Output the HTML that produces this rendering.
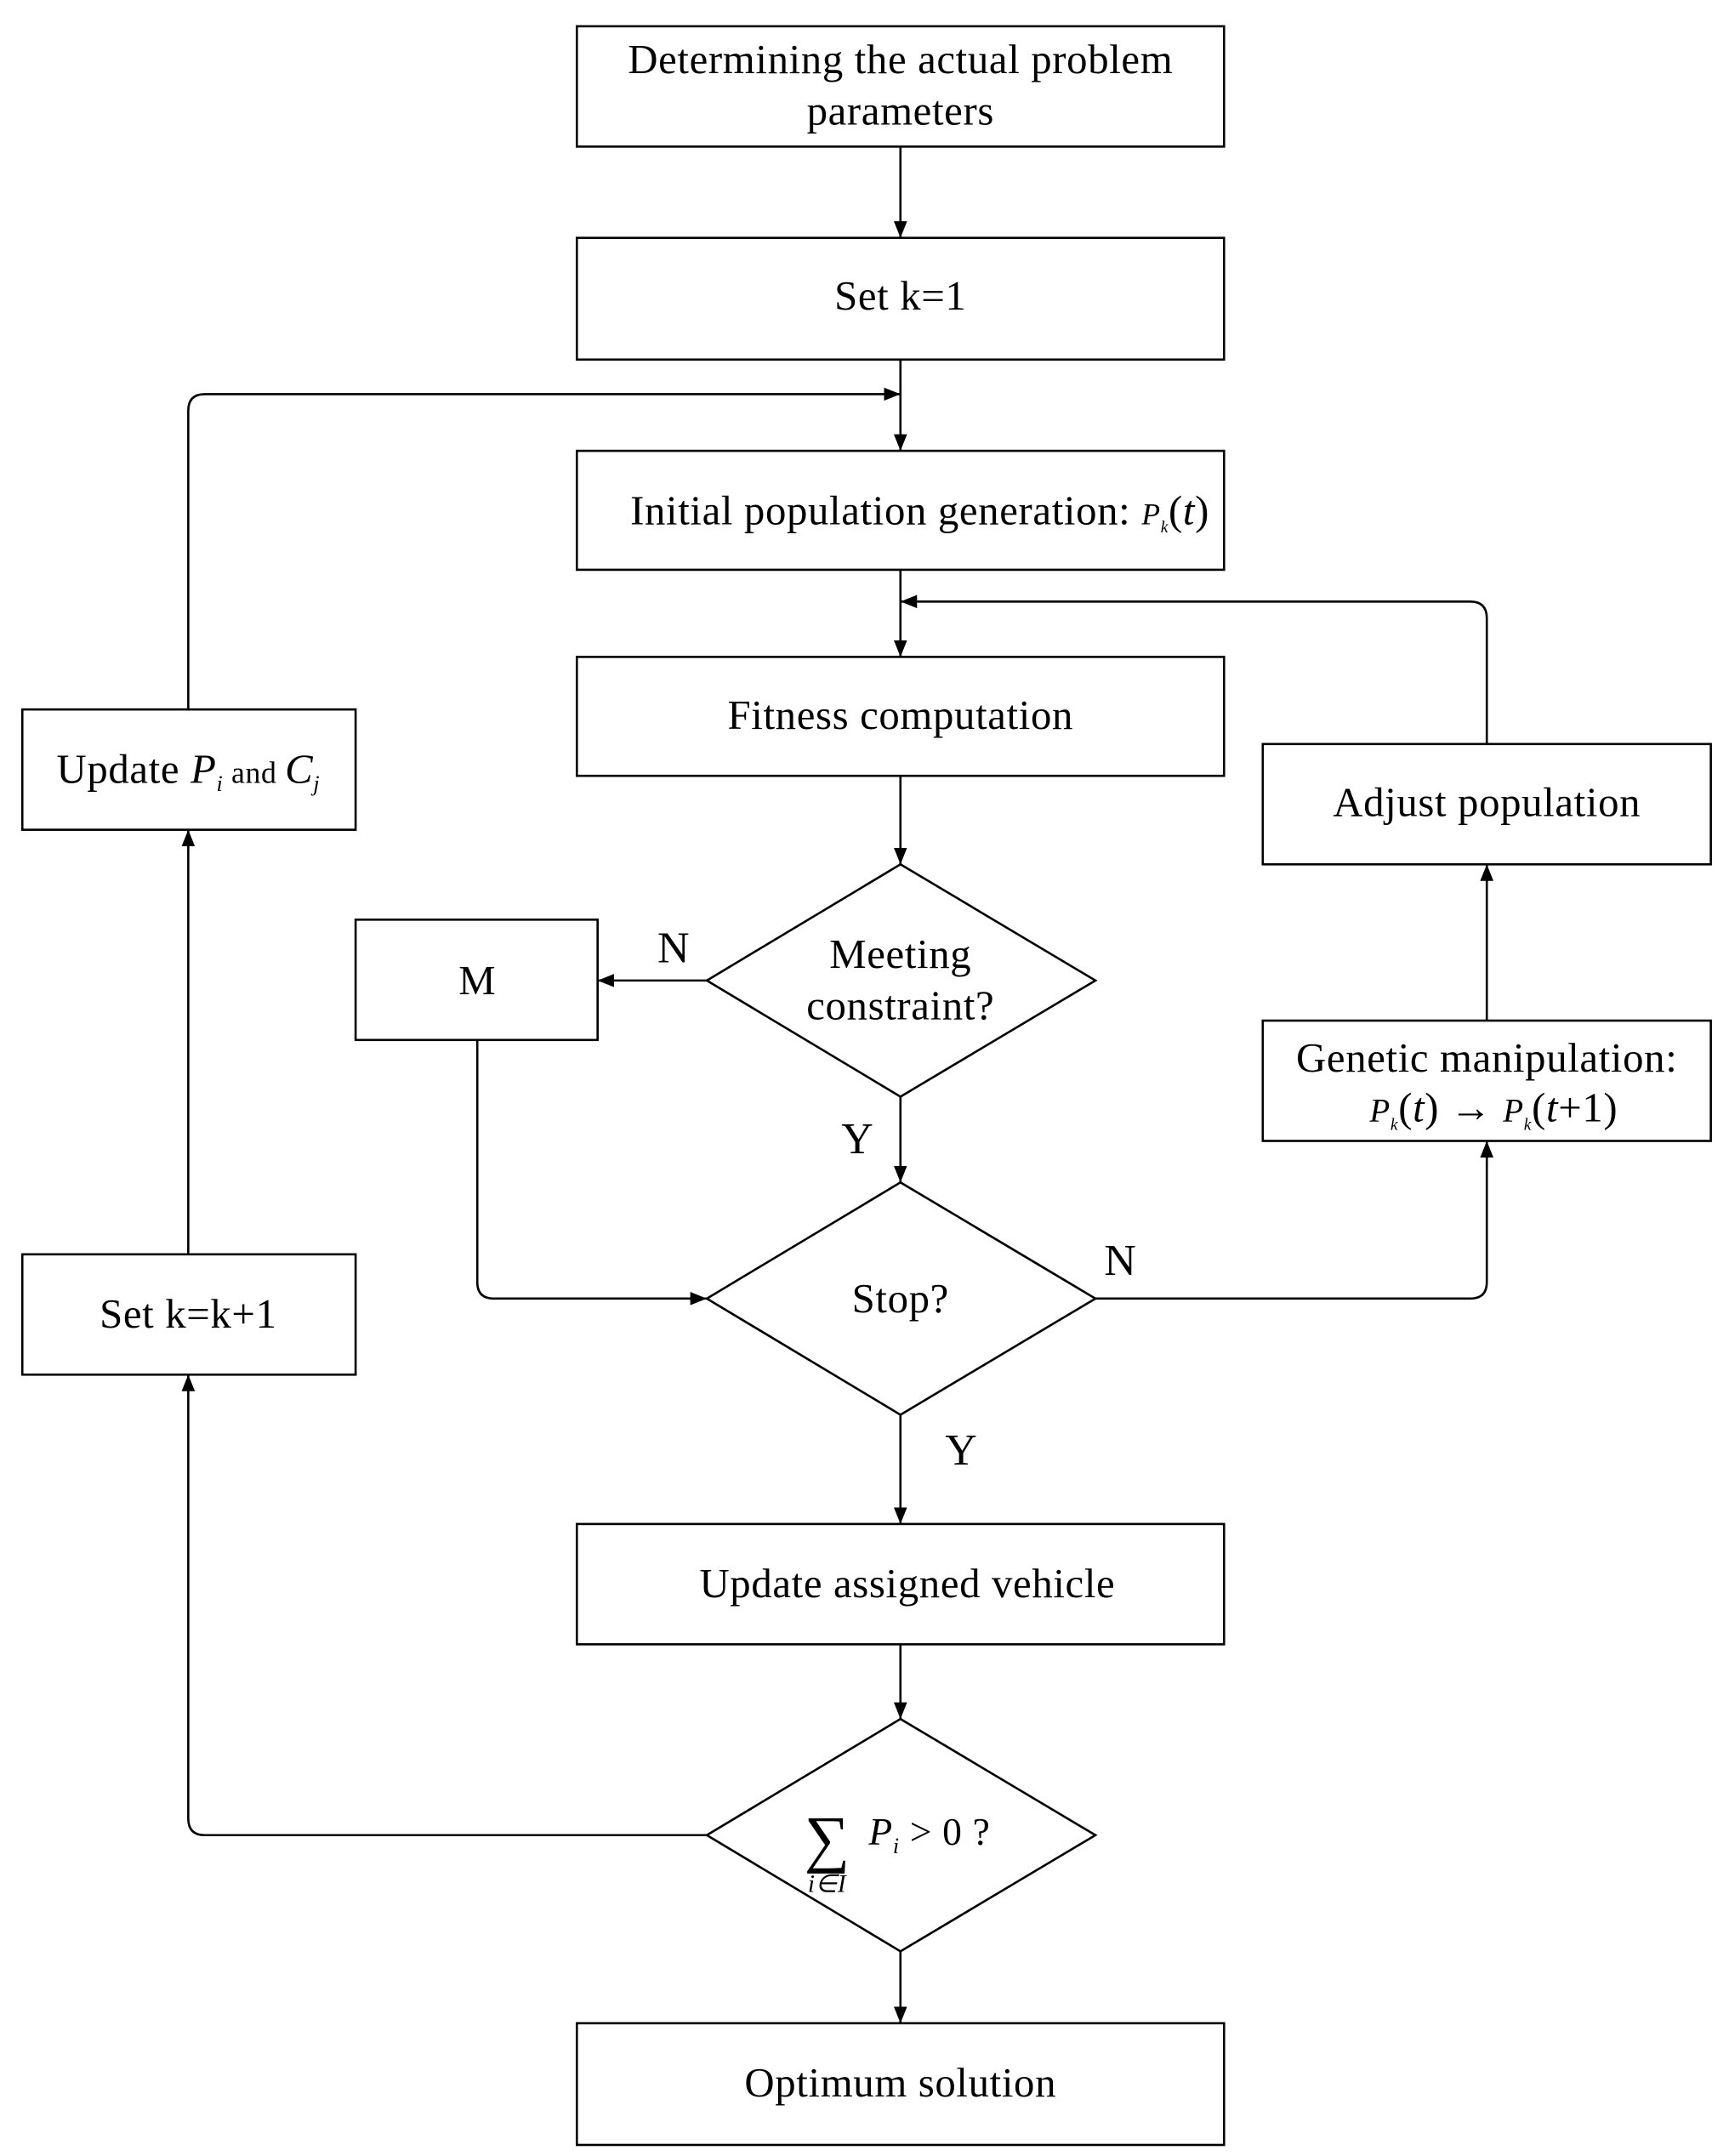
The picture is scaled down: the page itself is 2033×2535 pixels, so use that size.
<!DOCTYPE html>
<html><head><meta charset="utf-8">
<style>
html,body{margin:0;padding:0;background:#fff;}
svg{display:block;}
text{font-family:"Liberation Serif",serif;fill:#000;}
</style></head>
<body>
<svg width="2033" height="2535" viewBox="0 0 1250 1559" xmlns="http://www.w3.org/2000/svg">
<defs>
<marker id="b" viewBox="0 0 10 10" refX="10" refY="5" markerWidth="12" markerHeight="12" markerUnits="userSpaceOnUse" orient="auto">
<path d="M0,1 L10,5 L0,9 z" fill="#000"/>
</marker>
</defs>
<g fill="#fff" stroke="#000" stroke-width="1.6">
<rect x="417" y="19" width="468" height="87"/>
<rect x="417" y="172" width="468" height="88"/>
<rect x="417" y="326" width="468" height="86"/>
<rect x="417" y="475" width="468" height="86"/>
<rect x="257" y="665" width="175" height="87"/>
<rect x="417" y="1102" width="468" height="87"/>
<rect x="417" y="1463" width="468" height="88"/>
<rect x="16" y="513" width="241" height="87"/>
<rect x="16" y="907" width="241" height="87"/>
<rect x="913" y="538" width="324" height="87"/>
<rect x="913" y="738" width="324" height="87"/>
<polygon points="651,625 792,709 651,793 511,709"/>
<polygon points="651,855 792,939 651,1023 511,939"/>
<polygon points="651,1243 792,1327 651,1411 511,1327"/>
</g>
<g fill="none" stroke="#000" stroke-width="1.6">
<line x1="651" y1="106" x2="651" y2="172" marker-end="url(#b)"/>
<line x1="651" y1="260" x2="651" y2="326" marker-end="url(#b)"/>
<path d="M136,513 V297 Q136,285 148,285 H651" marker-end="url(#b)"/>
<line x1="651" y1="412" x2="651" y2="475" marker-end="url(#b)"/>
<path d="M1075,538 V447 Q1075,435 1063,435 H651" marker-end="url(#b)"/>
<line x1="651" y1="561" x2="651" y2="625" marker-end="url(#b)"/>
<line x1="511" y1="709" x2="432" y2="709" marker-end="url(#b)"/>
<line x1="651" y1="793" x2="651" y2="855" marker-end="url(#b)"/>
<path d="M345,752 V927 Q345,939 357,939 H511" marker-end="url(#b)"/>
<path d="M792,939 H1063 Q1075,939 1075,927 V825" marker-end="url(#b)"/>
<line x1="1075" y1="738" x2="1075" y2="625" marker-end="url(#b)"/>
<line x1="651" y1="1023" x2="651" y2="1102" marker-end="url(#b)"/>
<line x1="651" y1="1189" x2="651" y2="1243" marker-end="url(#b)"/>
<line x1="651" y1="1411" x2="651" y2="1463" marker-end="url(#b)"/>
<path d="M511,1327 H148 Q136,1327 136,1315 V994" marker-end="url(#b)"/>
<line x1="136" y1="907" x2="136" y2="600" marker-end="url(#b)"/>
</g>
<g font-size="30" text-anchor="middle" letter-spacing="0.4">
<text x="651" y="53">Determining the actual problem</text>
<text x="651" y="90">parameters</text>
<text x="651" y="224">Set k=1</text>
<text x="665" y="379">Initial population generation: <tspan font-style="italic" font-size="22">P</tspan><tspan font-size="12" font-style="italic" dy="6">k</tspan><tspan dy="-6">(</tspan><tspan font-style="italic">t</tspan>)</text>
<text x="651" y="527">Fitness computation</text>
<text x="651" y="700">Meeting</text>
<text x="651" y="737">constraint?</text>
<text x="345" y="719">M</text>
<text x="651" y="949">Stop?</text>
<text x="656" y="1155">Update assigned vehicle</text>
<text x="651" y="1516">Optimum solution</text>
<text x="136" y="566">Update <tspan font-style="italic">P</tspan><tspan font-style="italic" font-size="16" dy="6">i</tspan><tspan font-size="22" dy="-6"> and </tspan><tspan font-style="italic">C</tspan><tspan font-style="italic" font-size="16" dy="6">j</tspan></text>
<text x="136" y="960">Set k=k+1</text>
<text x="1075" y="590">Adjust population</text>
<text x="1075" y="775">Genetic manipulation:</text>
<text x="1080" y="811"><tspan font-style="italic" font-size="24">P</tspan><tspan font-size="12" font-style="italic" dy="6">k</tspan><tspan dy="-6">(</tspan><tspan font-style="italic">t</tspan>) → <tspan font-style="italic" font-size="24">P</tspan><tspan font-size="12" font-style="italic" dy="6">k</tspan><tspan dy="-6">(</tspan><tspan font-style="italic">t</tspan>+1)</text>
<text x="487" y="696" font-size="32">N</text>
<text x="620" y="834" font-size="32">Y</text>
<text x="810" y="922" font-size="32">N</text>
<text x="695" y="1059" font-size="32">Y</text>
<text x="598" y="1345" font-size="46">∑</text>
<text x="598" y="1368" font-size="18" font-style="italic">i∈I</text>
<text x="672" y="1334" font-size="28"><tspan font-style="italic">P</tspan><tspan font-size="16" font-style="italic" dy="6">i</tspan><tspan dy="-6"> &gt; 0 ?</tspan></text>
</g>
</svg>
</body></html>
